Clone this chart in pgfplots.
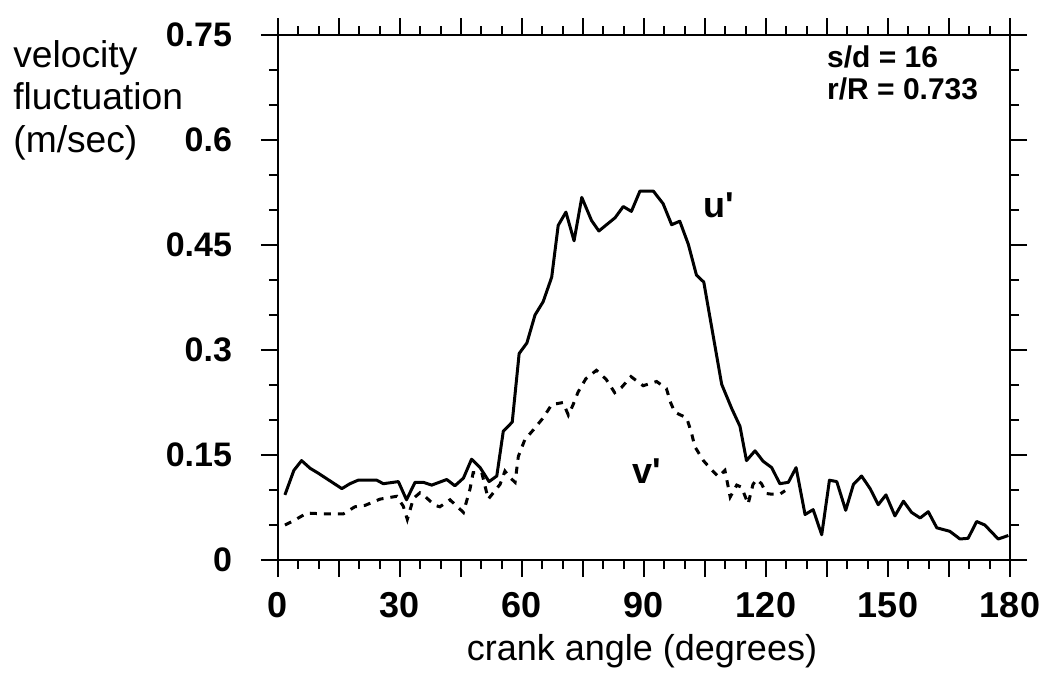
\documentclass[border=0pt]{standalone}
\usepackage{pgfplots}
\pgfplotsset{compat=1.18}
\usepackage{fontspec}
\setmainfont{Liberation Sans}
\pgfplotstableread{
x y
1.7 0.093
3.9 0.128
5.8 0.142
7.9 0.131
9.9 0.124
15.7 0.102
17.7 0.109
19.7 0.114
24.3 0.114
25.9 0.109
29.6 0.112
31.6 0.086
33.7 0.111
35.7 0.111
37.8 0.107
41.5 0.115
43.5 0.106
45.6 0.117
47.6 0.144
49.7 0.132
51.9 0.112
53.8 0.120
55.4 0.184
57.6 0.197
59.3 0.295
61.2 0.310
63.2 0.350
65.2 0.369
67.3 0.404
68.9 0.478
70.8 0.497
72.8 0.456
74.7 0.518
77.1 0.485
78.9 0.470
82.9 0.489
84.9 0.505
86.9 0.498
89.0 0.527
92.3 0.527
94.7 0.509
96.8 0.479
98.8 0.484
100.9 0.451
102.9 0.407
104.7 0.397
109.1 0.251
111.6 0.216
113.6 0.191
115.2 0.142
117.3 0.156
119.3 0.141
121.4 0.132
123.4 0.109
125.5 0.111
127.4 0.132
129.6 0.065
131.6 0.072
133.7 0.036
135.6 0.114
137.4 0.112
139.6 0.071
141.5 0.108
143.5 0.120
145.6 0.102
147.6 0.079
149.5 0.093
151.7 0.063
153.8 0.084
155.8 0.068
157.9 0.060
159.9 0.069
162.0 0.046
165.2 0.041
167.7 0.030
169.7 0.031
171.8 0.055
173.8 0.050
177.1 0.030
179.6 0.035
}\udata
\pgfplotstableread{
x y
1.7 0.050
3.8 0.056
7.1 0.067
11.1 0.066
16.1 0.066
18.9 0.076
21.4 0.078
25.1 0.087
29.2 0.091
30.8 0.077
31.8 0.058
33.3 0.088
34.9 0.096
36.1 0.091
38.6 0.078
39.8 0.076
42.3 0.086
45.6 0.068
47.2 0.101
48.0 0.125
50.1 0.125
50.9 0.106
51.7 0.087
54.6 0.108
55.8 0.127
57.0 0.118
58.3 0.111
59.1 0.148
60.7 0.172
62.8 0.186
65.2 0.203
67.3 0.222
70.1 0.225
71.4 0.207
72.5 0.221
73.8 0.240
75.7 0.259
78.3 0.271
80.7 0.258
82.8 0.239
84.4 0.246
86.8 0.262
89.8 0.249
93.1 0.255
95.5 0.245
96.6 0.224
97.6 0.211
100.5 0.203
101.7 0.181
102.5 0.162
104.6 0.142
106.6 0.129
108.3 0.119
109.9 0.128
111.2 0.090
112.8 0.107
114.0 0.104
115.6 0.080
116.8 0.108
117.7 0.115
118.9 0.109
120.1 0.095
121.4 0.094
123.4 0.094
124.7 0.099
}\vdata
\begin{document}
\begin{tikzpicture}
\begin{axis}[
  scale only axis, width=366pt, height=262.5pt,
  at={(0,0)}, anchor=south west,
  xmin=0, xmax=180, ymin=0, ymax=0.75,
  axis line style={line width=1.3pt},
  xtick={0,15,...,180},
  xticklabels={0,,30,,60,,90,,120,,150,,180},
  minor x tick num=2,
  ytick={0,0.15,0.3,0.45,0.6,0.75},
  yticklabels={0,0.15,0.3,0.45,0.6,0.75},
  minor y tick num=2,
  tick align=outside,
  major tick length=8.5pt, minor tick length=4.5pt,
  every tick/.style={line width=1pt, black},
  tick label style={font=\fontsize{17}{20}\selectfont\bfseries},
  yticklabel style={xshift=-11pt},
  xticklabel style={yshift=-4pt, font=\fontsize{18}{20}\selectfont\bfseries},
  clip=false,
]
\addplot[black, line width=1.5pt, line join=round] table[x=x,y=y] {\udata};
\addplot[black, line width=1.5pt, dash pattern=on 3.5pt off 3.5pt] table[x=x,y=y] {\vdata};
\node[font=\fontsize{18}{21}\selectfont\bfseries] at (axis cs:108.4,0.507) {u\textquotesingle};
\node[font=\fontsize{18}{21}\selectfont\bfseries] at (axis cs:90.7,0.1275) {v\textquotesingle};
\end{axis}
\node[anchor=base, font=\fontsize{18}{21}\selectfont] at (182pt,-50pt) {crank angle (degrees)};
\node[anchor=base west, font=\fontsize{18.6}{21}\selectfont, inner sep=0pt] at (-132.5pt,246pt) {velocity};
\node[anchor=base west, font=\fontsize{18.6}{21}\selectfont, inner sep=0pt] at (-132.5pt,225pt) {fluctuation};
\node[anchor=base west, font=\fontsize{18.6}{21}\selectfont, inner sep=0pt] at (-132.5pt,203.5pt) {(m/sec)};
\node[anchor=base west, font=\fontsize{15}{18}\selectfont\bfseries, inner sep=0pt] at (274.4pt,246pt) {s/d = 16};
\node[anchor=base west, font=\fontsize{15}{18}\selectfont\bfseries, inner sep=0pt] at (274.4pt,230pt) {r/R = 0.733};
\path (-139pt,-56.5pt) rectangle (385.5pt,280pt);
\end{tikzpicture}
\end{document}
